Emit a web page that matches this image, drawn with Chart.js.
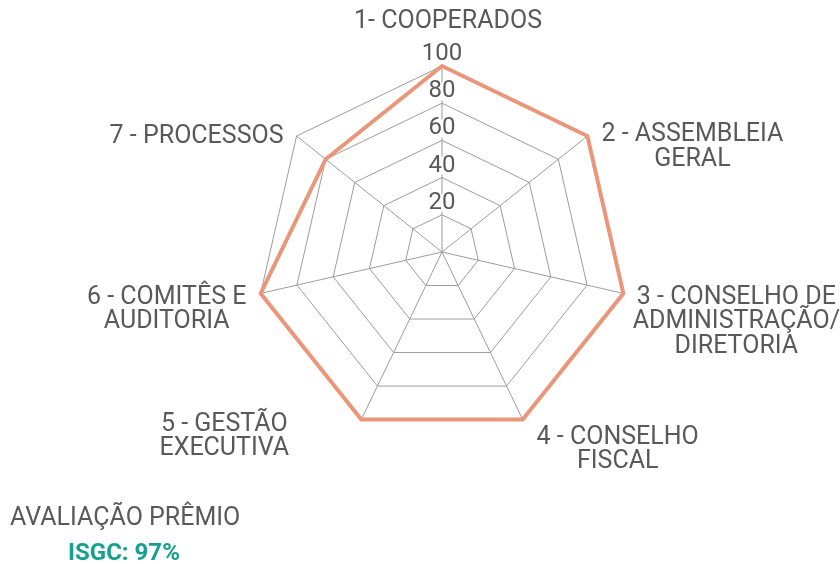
<!DOCTYPE html>
<html lang="pt-BR">
<head>
<meta charset="utf-8">
<title>Avaliação Prêmio ISGC</title>
<script src="https://cdn.jsdelivr.net/npm/chart.js@4.4.1/dist/chart.umd.min.js"></script>
<style>
  html, body { margin: 0; padding: 0; background: #fff; }
  #wrap { position: relative; width: 840px; height: 564px; }
  #radar { position: absolute; left: 0; top: 0; }
  .note { position: absolute; font-family: Roboto, sans-serif; white-space: nowrap; }
  #noteTitle { left: 10px; top: 502px; font-size: 25px; line-height: 30px; color: #595959; }
  #noteScore { left: 68px; top: 537px; font-size: 24px; line-height: 30px; color: #17a08e; font-weight: bold; }
</style>
</head>
<body>
<div id="wrap">
  <canvas id="radar" width="840" height="564"></canvas>
  <div class="note" id="noteTitle">AVALIAÇÃO PRÊMIO</div>
  <div class="note" id="noteScore">ISGC: 97%</div>
</div>

<script>
// ─── Data ────────────────────────────────────────────────────
const categories = [
  ['1- COOPERADOS'],
  ['2 - ASSEMBLEIA', 'GERAL'],
  ['3 - CONSELHO DE', 'ADMINISTRAÇÃO/', 'DIRETORIA'],
  ['4 - CONSELHO', 'FISCAL'],
  ['5 - GESTÃO', 'EXECUTIVA'],
  ['6 - COMITÊS E', 'AUDITORIA'],
  ['7 - PROCESSOS']
];
const scores     = [100, 100, 100, 100, 100, 100, 80];
const tickValues = [20, 40, 60, 80, 100];

// ─── Style ───────────────────────────────────────────────────
const TEXT   = '#595959';
const GRID   = '#9c9c9c';
const LINE   = '#e9967a';
const LINE_H = 24.5;
// where each label's first line sits, relative to its outer vertex
const labelOffsets = [[6, -44], [105, -1], [113, 4], [95, 18], [-137, 5], [-94, 4], [-100, 1]];

const radarText = {
  id: 'radarText',
  afterDatasetsDraw(chart) {
    const r   = chart.scales.r;
    const ctx = chart.ctx;
    ctx.save();
    ctx.textAlign = 'center';
    ctx.textBaseline = 'middle';

    // tick labels sit just above each ring on the first spoke
    ctx.font = '24px Roboto';
    tickValues.forEach(v => {
      const p = r.getPointPosition(0, r.getDistanceFromCenterForValue(v));
      const y = p.y - 12;
      const w = ctx.measureText(String(v)).width;
      ctx.fillStyle = '#fff';
      ctx.fillRect(p.x - w / 2 - 1, y - 9, w + 2, 18);
      ctx.fillStyle = TEXT;
      ctx.fillText(String(v), p.x, y);
    });

    // category labels, lines centred on each other
    ctx.font = '25px Roboto';
    ctx.fillStyle = TEXT;
    categories.forEach((lines, i) => {
      const p = r.getPointPosition(i, r.drawingArea);
      const [dx, dy] = labelOffsets[i];
      lines.forEach((line, k) => ctx.fillText(line, p.x + dx, p.y + dy + k * LINE_H));
    });
    ctx.restore();
  }
};

new Chart(document.getElementById('radar'), {
  type: 'radar',
  data: {
    labels: categories,
    datasets: [{
      data: scores,
      borderColor: LINE,
      borderWidth: 4,
      fill: false,
      pointRadius: 0,
      pointHoverRadius: 0,
      borderJoinStyle: 'miter',
      tension: 0
    }]
  },
  options: {
    responsive: false,
    animation: false,
    devicePixelRatio: 1,
    layout: { padding: { top: 66, bottom: 126, left: 256, right: 212 } },
    plugins: {
      legend: { display: false },
      tooltip: { enabled: false }
    },
    scales: {
      r: {
        min: 0,
        max: 100,
        startAngle: 0,
        ticks: { stepSize: 20, display: false },
        pointLabels: { display: false },
        grid: { color: GRID, lineWidth: 1 },
        angleLines: { color: GRID, lineWidth: 1 }
      }
    }
  },
  plugins: [radarText]
});
</script>
</body>
</html>
